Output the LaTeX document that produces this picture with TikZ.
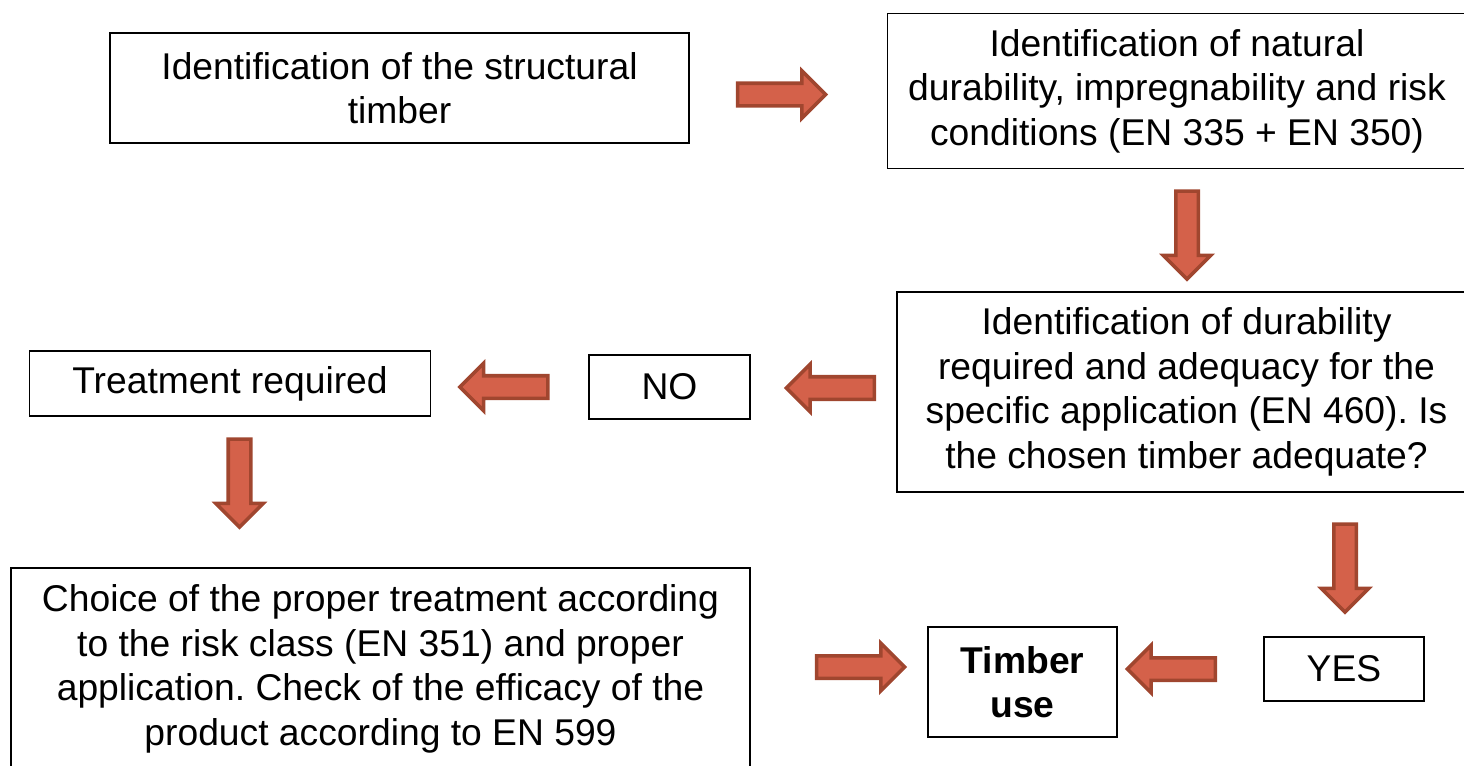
\documentclass[tikz,border=0pt]{standalone}
\usepackage{fontspec}
\setmainfont{Liberation Sans}
\usetikzlibrary{shapes.arrows}
\definecolor{arrfill}{HTML}{D4614A}
\definecolor{arrline}{HTML}{A0462F}
\frenchspacing

\begin{document}
\begin{tikzpicture}[x=0.02cm,y=-0.02cm,
  box/.style={draw,line width=1pt,align=center,inner sep=0pt,
    font=\fontsize{21.2}{25.3}\selectfont},
  blockarr/.style={single arrow,draw=arrline,fill=arrfill,line width=2pt,
    inner sep=0pt,text height=0.19cm,text depth=0.19cm,minimum width=0pt,
    minimum height=1.76cm,single arrow head extend=0.25cm}]
  \useasboundingbox (0,0) rectangle (1464,765);
  \clip (0,0) rectangle (1464,765);

  % boxes
  \node[box,minimum width=11.58cm,minimum height=2.2cm] (timber) at (399.5,88)
    {Identification of the structural\\timber};
  \node[box,minimum width=11.58cm,minimum height=3.1cm] (natural) at (1177,91)
    {Identification of natural\\durability, impregnability and risk\\conditions (EN 335 + EN 350)};
  \node[box,minimum width=11.58cm,minimum height=4cm] (adequate) at (1186.5,392)
    {Identification of durability\\required and adequacy for the\\specific application (EN 460). Is\\the chosen timber adequate?};
  \node[box,minimum width=3.22cm,minimum height=1.28cm] (no) at (669.5,387) {NO};
  \node[box,minimum width=8.02cm,minimum height=1.3cm] (treat) at (230,383.5) {Treatment required};
  \node[box,minimum width=14.78cm,minimum height=4.04cm] (choice) at (380.5,669)
    {Choice of the proper treatment according\\to the risk class (EN 351) and proper\\application. Check of the efficacy of the\\product according to EN 599};
  \node[box,minimum width=3.78cm,minimum height=2.2cm,font=\fontsize{21.2}{25.3}\selectfont\bfseries] (use) at (1022.5,682)
    {Timber\\use};
  \node[box,minimum width=3.2cm,minimum height=1.28cm] (yes) at (1344,669) {YES};

  % block arrows
  \node[blockarr] (a1) at (776,94.5) {};
  \node[blockarr,rotate=-90] (a2) at (1187,229.5) {};
  \node[blockarr,rotate=180] (a3) at (836,388) {};
  \node[blockarr,rotate=180] (a4) at (509.5,387) {};
  \node[blockarr,rotate=-90] (a5) at (239.5,477.5) {};
  \node[blockarr,rotate=-90] (a6) at (1345,562.5) {};
  \node[blockarr] (a7) at (855,667) {};
  \node[blockarr,rotate=180] (a8) at (1177,669) {};
\end{tikzpicture}
\end{document}
